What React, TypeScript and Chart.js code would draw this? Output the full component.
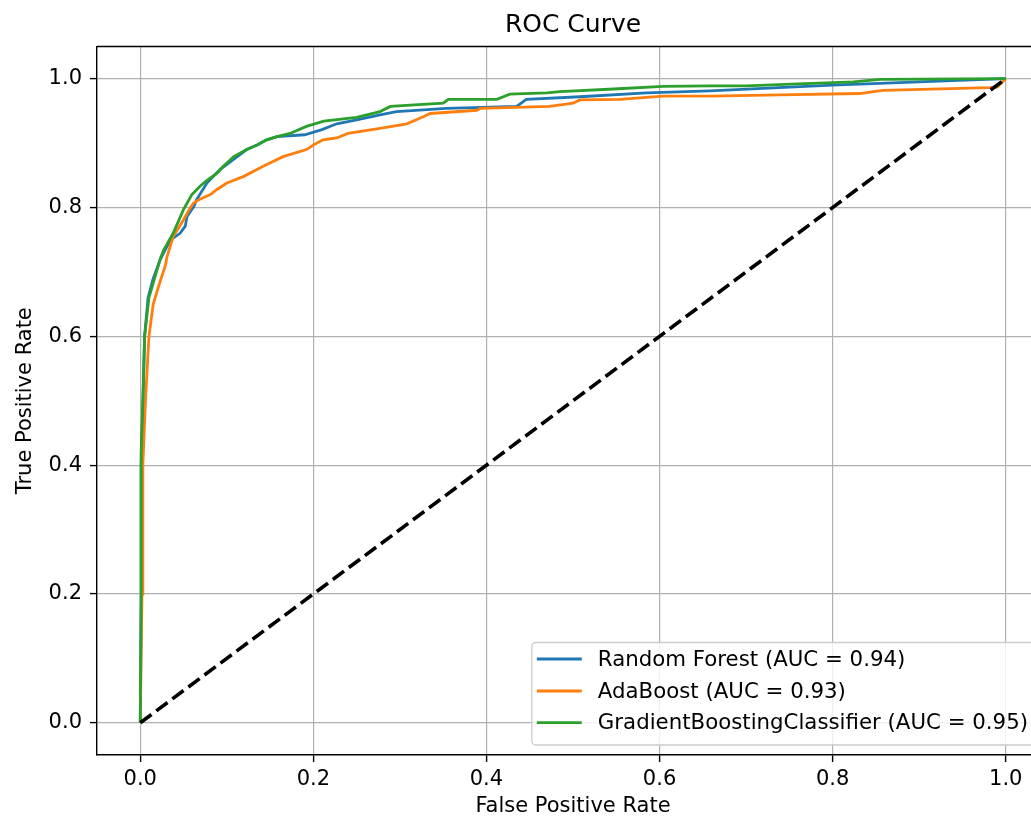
import React, { useEffect, useRef } from "react";
import { Chart, registerables } from "chart.js";

Chart.register(...registerables);

// ---- Data ----
const rfFpr = [0, 0.001, 0.001, 0.003, 0.005, 0.009, 0.015, 0.023, 0.035, 0.046, 0.052, 0.054, 0.062, 0.065, 0.077, 0.092, 0.112, 0.123, 0.135, 0.146, 0.158, 0.19, 0.21, 0.227, 0.25, 0.277, 0.296, 0.354, 0.435, 0.446, 0.508, 0.585, 0.658, 0.8, 0.9, 1.0];
const rfTpr = [0, 0.2, 0.4, 0.49, 0.6, 0.66, 0.69, 0.719, 0.75, 0.76, 0.771, 0.786, 0.802, 0.812, 0.838, 0.859, 0.879, 0.89, 0.897, 0.905, 0.91, 0.913, 0.921, 0.93, 0.936, 0.944, 0.949, 0.954, 0.957, 0.968, 0.972, 0.978, 0.981, 0.99, 0.995, 1.0];

const adaFpr = [0, 0.002, 0.003, 0.006, 0.01, 0.015, 0.021, 0.029, 0.031, 0.038, 0.05, 0.058, 0.0616, 0.069, 0.081, 0.0886, 0.1, 0.119, 0.142, 0.165, 0.192, 0.2, 0.211, 0.227, 0.24, 0.277, 0.308, 0.327, 0.335, 0.389, 0.393, 0.473, 0.5, 0.508, 0.554, 0.604, 0.658, 0.739, 0.831, 0.858, 0.981, 0.99, 1.0];
const adaTpr = [0, 0.2, 0.4, 0.5, 0.6, 0.65, 0.677, 0.71, 0.724, 0.755, 0.781, 0.8, 0.807, 0.813, 0.82, 0.828, 0.838, 0.848, 0.864, 0.879, 0.89, 0.897, 0.905, 0.908, 0.915, 0.923, 0.93, 0.941, 0.946, 0.951, 0.954, 0.957, 0.962, 0.967, 0.968, 0.973, 0.973, 0.975, 0.977, 0.982, 0.986, 0.987, 1.0];

const gbFpr = [0, 0.001, 0.001, 0.003, 0.005, 0.01, 0.015, 0.023, 0.027, 0.038, 0.05, 0.0596, 0.069, 0.077, 0.0885, 0.096, 0.108, 0.123, 0.135, 0.146, 0.158, 0.173, 0.192, 0.212, 0.25, 0.277, 0.289, 0.35, 0.356, 0.412, 0.427, 0.47, 0.485, 0.547, 0.604, 0.658, 0.7, 0.76, 0.824, 0.855, 1.0];
const gbTpr = [0, 0.2, 0.42, 0.5, 0.6, 0.66, 0.683, 0.72, 0.734, 0.76, 0.797, 0.82, 0.833, 0.842, 0.853, 0.864, 0.879, 0.89, 0.897, 0.905, 0.91, 0.915, 0.926, 0.934, 0.94, 0.949, 0.957, 0.962, 0.968, 0.968, 0.976, 0.978, 0.98, 0.984, 0.988, 0.989, 0.989, 0.992, 0.995, 0.999, 1.0];

const chanceFpr = [0, 1];
const chanceTpr = [0, 1];

const seriesLabels = [
  "Random Forest (AUC = 0.94)",
  "AdaBoost (AUC = 0.93)",
  "GradientBoostingClassifier (AUC = 0.95)",
];
const seriesColors = ["#1f77b4", "#ff7f0e", "#2ca02c"];

const xTicks = [0, 0.2, 0.4, 0.6, 0.8, 1.0];
const yTicks = [0, 0.2, 0.4, 0.6, 0.8, 1.0];

const FONT = "'DejaVu Sans', 'Liberation Sans', sans-serif";

const toPts = (xs: number[], ys: number[]) => xs.map((x, i) => ({ x, y: ys[i] }));

export default function App() {
  const ref = useRef<HTMLCanvasElement | null>(null);

  useEffect(() => {
    if (!ref.current) return;

    const framePlugin = {
      id: "frameAndLegend",
      afterDatasetsDraw(chart: any) {
        const { ctx, chartArea } = chart;
        ctx.save();
        ctx.strokeStyle = "#000";
        ctx.lineWidth = 1.4;
        ctx.beginPath();
        ctx.moveTo(chartArea.left, chartArea.top);
        ctx.lineTo(chartArea.right, chartArea.top);
        ctx.lineTo(chartArea.right, chartArea.bottom);
        ctx.stroke();
        ctx.restore();
      },
      afterDraw(chart: any) {
        const { ctx, chartArea } = chart;
        ctx.save();
        ctx.font = `21.3px ${FONT}`;
        const maxW = Math.max(...seriesLabels.map((t) => ctx.measureText(t).width));
        const boxRight = chartArea.right - 10;
        const boxBottom = chartArea.bottom - 10;
        const textX = boxRight - 11 - maxW;
        const boxLeft = textX - 66;
        const boxTop = boxBottom - 102.5;
        const r = 4;
        ctx.beginPath();
        ctx.moveTo(boxLeft + r, boxTop);
        ctx.lineTo(boxRight - r, boxTop);
        ctx.arcTo(boxRight, boxTop, boxRight, boxTop + r, r);
        ctx.lineTo(boxRight, boxBottom - r);
        ctx.arcTo(boxRight, boxBottom, boxRight - r, boxBottom, r);
        ctx.lineTo(boxLeft + r, boxBottom);
        ctx.arcTo(boxLeft, boxBottom, boxLeft, boxBottom - r, r);
        ctx.lineTo(boxLeft, boxTop + r);
        ctx.arcTo(boxLeft, boxTop, boxLeft + r, boxTop, r);
        ctx.closePath();
        ctx.fillStyle = "rgba(255,255,255,0.8)";
        ctx.fill();
        ctx.strokeStyle = "#cccccc";
        ctx.lineWidth = 1.3;
        ctx.stroke();

        const rowOffsets = [86, 54, 22.3];
        ctx.textBaseline = "middle";
        ctx.textAlign = "left";
        seriesLabels.forEach((label, i) => {
          const y = boxBottom - rowOffsets[i];
          ctx.strokeStyle = seriesColors[i];
          ctx.lineWidth = 2.8;
          ctx.beginPath();
          ctx.moveTo(textX - 61, y);
          ctx.lineTo(textX - 16, y);
          ctx.stroke();
          ctx.fillStyle = "#000";
          ctx.fillText(label, textX, y + 1);
        });
        ctx.restore();
      },
    };

    const lineDs = (label: string, xs: number[], ys: number[], color: string, order: number) => ({
      label,
      data: toPts(xs, ys),
      borderColor: color,
      backgroundColor: color,
      borderWidth: 2.8,
      pointRadius: 0,
      tension: 0,
      fill: false,
      order,
    });

    const chart = new Chart(ref.current, {
      type: "line",
      data: {
        datasets: [
          lineDs(seriesLabels[0], rfFpr, rfTpr, seriesColors[0], 3),
          lineDs(seriesLabels[1], adaFpr, adaTpr, seriesColors[1], 2),
          lineDs(seriesLabels[2], gbFpr, gbTpr, seriesColors[2], 1),
          {
            label: "chance",
            data: toPts(chanceFpr, chanceTpr),
            borderColor: "#000",
            borderWidth: 3.6,
            borderDash: [14, 6],
            pointRadius: 0,
            fill: false,
            order: 0,
          },
        ],
      },
      options: {
        responsive: false,
        animation: false,
        devicePixelRatio: 1,
        layout: { padding: { left: 0, right: 31, top: 0, bottom: 0 } },
        plugins: {
          legend: { display: false },
          tooltip: { enabled: false },
          title: {
            display: true,
            text: "ROC Curve",
            fullSize: false,
            color: "#000",
            font: { family: FONT, size: 25, weight: "normal" },
            padding: { top: 10, bottom: 6.5 },
          },
        },
        scales: {
          x: {
            type: "linear",
            min: -0.05,
            max: 1.05,
            afterBuildTicks: (s: any) => {
              s.ticks = xTicks.map((v) => ({ value: v }));
            },
            afterFit: (s: any) => {
              s.height = 65;
            },
            grid: {
              color: "#b0b0b0",
              lineWidth: 1.2,
              drawTicks: true,
              tickLength: 7,
              tickColor: "#000",
              tickWidth: 1.4,
            },
            border: { display: true, color: "#000", width: 1.4 },
            ticks: {
              color: "#000",
              font: { family: FONT, size: 21 },
              padding: 5,
              maxRotation: 0,
              autoSkip: false,
              callback: (v: any) => Number(v).toFixed(1),
            },
            title: {
              display: true,
              text: "False Positive Rate",
              color: "#000",
              font: { family: FONT, size: 21 },
              padding: { top: 0, bottom: 1 },
            },
          },
          y: {
            type: "linear",
            min: -0.05,
            max: 1.05,
            afterBuildTicks: (s: any) => {
              s.ticks = yTicks.map((v) => ({ value: v }));
            },
            afterFit: (s: any) => {
              s.width = 97;
            },
            grid: {
              color: "#b0b0b0",
              lineWidth: 1.2,
              drawTicks: true,
              tickLength: 7,
              tickColor: "#000",
              tickWidth: 1.4,
            },
            border: { display: true, color: "#000", width: 1.4 },
            ticks: {
              color: "#000",
              font: { family: FONT, size: 21 },
              padding: 8,
              autoSkip: false,
              callback: (v: any) => Number(v).toFixed(1),
            },
            title: {
              display: true,
              text: "True Positive Rate",
              color: "#000",
              font: { family: FONT, size: 21 },
              padding: { top: 13, bottom: 0 },
            },
          },
        },
      },
      plugins: [framePlugin],
    } as any);

    return () => chart.destroy();
  }, []);

  return (
    <div
      style={{
        position: "fixed",
        left: 0,
        top: 0,
        width: 1031,
        height: 820,
        overflow: "hidden",
        background: "#fff",
      }}
    >
      <canvas ref={ref} width={1080} height={820} style={{ width: 1080, height: 820, display: "block" }} />
    </div>
  );
}
